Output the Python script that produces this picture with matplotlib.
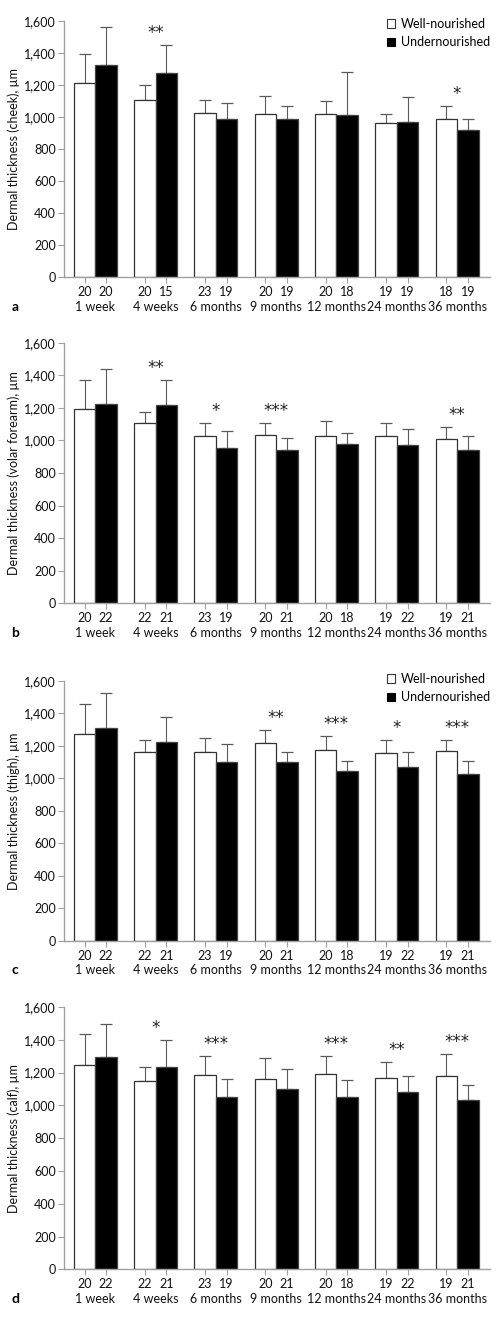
import matplotlib
matplotlib.use('Agg')
import matplotlib.pyplot as plt
from matplotlib.patches import Patch
import numpy as np

plt.rcParams['font.family'] = ['Lato', 'DejaVu Sans']

timepoints = ['1 week', '4 weeks', '6 months', '9 months', '12 months', '24 months', '36 months']

# Panel a: cheek
cheek_wn_mean = [1209, 1105, 1022, 1020, 1020, 960, 985]
cheek_wn_sd = [181, 94, 81, 112, 77, 58, 81]
cheek_un_mean = [1324, 1272, 989, 987, 1014, 970, 916]
cheek_un_sd = [234, 178, 100, 83, 264, 156, 69]
cheek_wn_n = [20, 20, 23, 20, 20, 19, 18]
cheek_un_n = [20, 15, 19, 19, 18, 19, 19]
cheek_sig = ['', '**', '', '', '', '', '*']

# Panel b: volar forearm
forearm_wn_mean = [1193, 1109, 1027, 1035, 1025, 1025, 1011]
forearm_wn_sd = [178, 67, 82, 74, 92, 80, 73]
forearm_un_mean = [1226, 1217, 955, 941, 978, 972, 941]
forearm_un_sd = [210, 154, 105, 76, 65, 100, 84]
forearm_wn_n = [20, 22, 23, 20, 20, 19, 19]
forearm_un_n = [22, 21, 19, 21, 18, 22, 21]
forearm_sig = ['', '**', '*', '***', '', '', '**']

# Panel c: thigh
thigh_wn_mean = [1275, 1163, 1163, 1216, 1173, 1158, 1167]
thigh_wn_sd = [185, 71, 88, 80, 90, 80, 67]
thigh_un_mean = [1312, 1224, 1103, 1099, 1045, 1068, 1029]
thigh_un_sd = [212, 154, 107, 66, 64, 97, 80]
thigh_wn_n = [20, 22, 23, 20, 20, 19, 19]
thigh_un_n = [22, 21, 19, 21, 18, 22, 21]
thigh_sig = ['', '', '', '**', '***', '*', '***']

# Panel d: calf
calf_wn_mean = [1244, 1147, 1187, 1159, 1189, 1167, 1177]
calf_wn_sd = [191, 85, 112, 128, 114, 98, 134]
calf_un_mean = [1297, 1236, 1053, 1098, 1049, 1080, 1033]
calf_un_sd = [199, 165, 106, 126, 104, 97, 93]
calf_wn_n = [20, 22, 23, 20, 20, 19, 19]
calf_un_n = [22, 21, 19, 21, 18, 22, 21]
calf_sig = ['', '*', '***', '', '***', '**', '***']

yticks = [0, 200, 400, 600, 800, 1000, 1200, 1400, 1600]

panels = [
    ('a', 'Dermal thickness (cheek), µm', cheek_wn_mean, cheek_wn_sd, cheek_un_mean, cheek_un_sd,
     cheek_wn_n, cheek_un_n, cheek_sig, True),
    ('b', 'Dermal thickness (volar forearm), µm', forearm_wn_mean, forearm_wn_sd, forearm_un_mean,
     forearm_un_sd, forearm_wn_n, forearm_un_n, forearm_sig, False),
    ('c', 'Dermal thickness (thigh), µm', thigh_wn_mean, thigh_wn_sd, thigh_un_mean, thigh_un_sd,
     thigh_wn_n, thigh_un_n, thigh_sig, True),
    ('d', 'Dermal thickness (calf), µm', calf_wn_mean, calf_wn_sd, calf_un_mean, calf_un_sd,
     calf_wn_n, calf_un_n, calf_sig, False),
]

W, H = 498, 1320
fig = plt.figure(figsize=(W / 100, H / 100), dpi=100)

axes_px = [(20.7, 277.3), (342.7, 603.3), (681.0, 940.7), (1007.0, 1269.3)]
legend_top_px = [18.0, 673.0]
left_px, right_px = 64.0, 490.0
PX = 72.0 / 100.0  # points per pixel
FS = 9.0

axis_col = '#a0a0a0'
err_col = '#5a5a5a'
w = 0.357
li = 0
for (letter, ylabel, wn, wn_sd, un, un_sd, wn_n, un_n, sig, show_leg), (top, bot) in zip(panels, axes_px):
    ax = fig.add_axes([left_px / W, 1 - bot / H, (right_px - left_px) / W, (bot - top) / H])
    x = np.arange(len(timepoints))
    xw = x - w / 2
    xu = x + w / 2
    ax.bar(xw, wn, w, color='white', edgecolor='#333333', linewidth=0.9, zorder=2)
    ax.bar(xu, un, w, color='black', edgecolor='#444444', linewidth=0.9, zorder=2)
    ax.errorbar(xw, wn, yerr=[np.zeros(len(wn)), wn_sd], fmt='none', ecolor=err_col,
                elinewidth=0.8, capsize=4.3, capthick=0.9, zorder=1)
    ax.errorbar(xu, un, yerr=[np.zeros(len(un)), un_sd], fmt='none', ecolor=err_col,
                elinewidth=0.8, capsize=4.3, capthick=0.9, zorder=1)

    ax.set_xlim(-0.519, 6.546)
    ax.set_ylim(0, 1600)
    for s in ['top', 'right']:
        ax.spines[s].set_visible(False)
    for s in ['left', 'bottom']:
        ax.spines[s].set_color(axis_col)
        ax.spines[s].set_linewidth(1.0)

    ax.set_yticks(yticks)
    ax.set_yticklabels([f'{v:,}' for v in yticks])
    pos = np.ravel(np.column_stack([xw, xu]))
    labs = [str(v) for pair in zip(wn_n, un_n) for v in pair]
    ax.set_xticks(pos)
    ax.set_xticklabels(labs)
    ax.tick_params(axis='both', colors=axis_col, labelcolor='#111111', length=4, width=0.8,
                   labelsize=FS, pad=2)
    ax.tick_params(axis='x', pad=2.5)

    ax.set_ylabel(ylabel, fontsize=FS, color='#111111')
    ax.yaxis.set_label_coords(-44 / (right_px - left_px), 0.5)

    for i, t in enumerate(timepoints):
        ax.annotate(t, xy=(i, 0), xycoords=('data', 'axes fraction'),
                    xytext=(0, -29.5 * PX), textcoords='offset points',
                    ha='center', va='center', fontsize=FS, color='#111111')
    ax.annotate(letter, xy=(0, 0), xycoords='axes fraction',
                xytext=((15 - left_px) * PX, -29.5 * PX), textcoords='offset points',
                ha='center', va='center', fontsize=10, fontweight='bold')

    for i, s in enumerate(sig):
        if s:
            ytop = max(wn[i] + wn_sd[i], un[i] + un_sd[i])
            ax.annotate(s, xy=(i, ytop), xytext=(0, 3 * PX),
                        textcoords='offset points', ha='center', va='bottom', fontsize=12,
                        family='DejaVu Sans', color='#222222')

    if show_leg:
        handles = [Patch(facecolor='white', edgecolor='#333333', linewidth=0.8, label='Well-nourished'),
                   Patch(facecolor='black', edgecolor='black', linewidth=0.8, label='Undernourished')]
        lt = legend_top_px[li]
        li += 1
        ax.legend(handles=handles, loc='upper right', frameon=False, fontsize=FS,
                  handlelength=0.7, handleheight=0.7, handletextpad=0.45, labelspacing=0.5,
                  borderaxespad=0, borderpad=0,
                  bbox_to_anchor=(490 / W, 1 - lt / H), bbox_transform=fig.transFigure)

fig.savefig('out.png', dpi=100)
